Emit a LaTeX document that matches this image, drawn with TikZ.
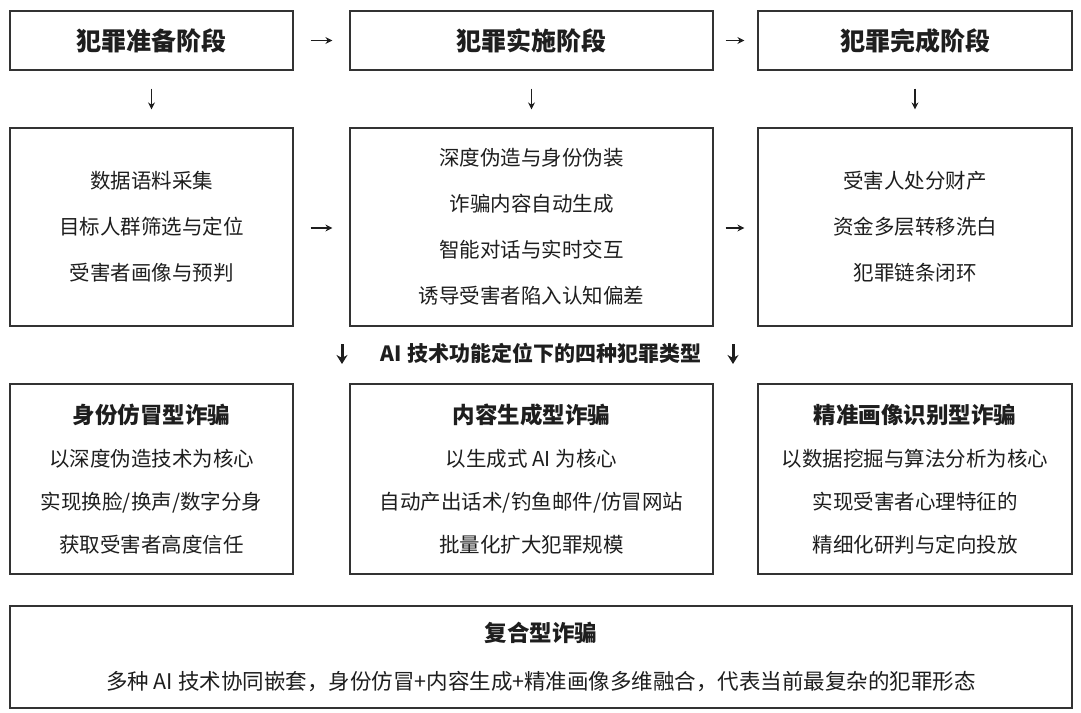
\documentclass[tikz,border=0pt]{standalone}
\usepackage{fontspec}
\setmainfont{Noto Sans CJK SC}
\usetikzlibrary{arrows.meta}
\definecolor{ink}{HTML}{1E1E1E}
\definecolor{edge}{HTML}{333333}
\begin{document}
\begin{tikzpicture}[x=1pt,y=-1pt,
  box/.style={draw=edge, line width=1.2pt, inner sep=0pt, align=center, text=ink},
  headtext/.style={font=\fontsize{25}{30}\selectfont\bfseries},
  bodytext/.style={font=\fontsize{20.5}{46}\selectfont},
  typetext/.style={font=\fontsize{20.5}{43}\selectfont},
  arr/.style={draw=ink, line width=1.2pt, -{Stealth[length=7pt,width=7pt]}},
  bigarr/.style={draw=ink, line width=3pt, -{Stealth[length=9pt,width=11pt]}},
  lbl/.style={text=ink, font=\fontsize{21}{24}\selectfont\bfseries}
]
\useasboundingbox (0,0) rectangle (1081,712);
\fill[white] (0,0) rectangle (1081,712);

% Row 1
\node[box, headtext, minimum width=283pt, minimum height=59pt] (h1) at (151.5,40.5) {犯罪准备阶段};
\node[box, headtext, minimum width=363pt, minimum height=59pt] (h2) at (531.5,40.5) {犯罪实施阶段};
\node[box, headtext, minimum width=314pt, minimum height=59pt] (h3) at (915,40.5) {犯罪完成阶段};

% Row 2
\node[box, bodytext, minimum width=283pt, minimum height=198pt] (s1) at (151.5,227) {数据语料采集\\目标人群筛选与定位\\受害者画像与预判};
\node[box, bodytext, minimum width=363pt, minimum height=198pt] (s2) at (531.5,227) {\raisebox{-2pt}{\parbox{340pt}{\centering 深度伪造与身份伪装\\诈骗内容自动生成\\智能对话与实时交互\\诱导受害者陷入认知偏差}}};
\node[box, bodytext, minimum width=314pt, minimum height=198pt] (s3) at (915,227) {受害人处分财产\\资金多层转移洗白\\犯罪链条闭环};

% Middle label
\node[lbl] (mid) at (541,353) {AI 技术功能定位下的四种犯罪类型};
\coordinate (ma1) at (342,344);
\coordinate (mb1) at (342,364);
\coordinate (ma2) at (733,344);
\coordinate (mb2) at (733,364);
\draw[bigarr] (ma1) -- (mb1);
\draw[bigarr] (ma2) -- (mb2);

% Row 3
\node[box, typetext, minimum width=283pt, minimum height=190pt] (t1) at (151.5,479)
  {{\fontsize{22.5}{43}\selectfont\bfseries 身份仿冒型诈骗}\\以深度伪造技术为核心\\实现换脸/换声/数字分身\\获取受害者高度信任};
\node[box, typetext, minimum width=363pt, minimum height=190pt] (t2) at (531.5,479)
  {{\fontsize{22.5}{43}\selectfont\bfseries 内容生成型诈骗}\\以生成式 AI 为核心\\自动产出话术/钓鱼邮件/仿冒网站\\批量化扩大犯罪规模};
\node[box, typetext, minimum width=314pt, minimum height=190pt] (t3) at (915,479)
  {{\fontsize{22.5}{43}\selectfont\bfseries 精准画像识别型诈骗}\\以数据挖掘与算法分析为核心\\实现受害者心理特征的\\精细化研判与定向投放};

% Row 4
\node[box, font=\fontsize{21.5}{48}\selectfont, minimum width=1062pt, minimum height=102pt] (c) at (541,657)
  {{\fontsize{22.5}{48}\selectfont\bfseries 复合型诈骗}\\多种 AI 技术协同嵌套，身份仿冒+内容生成+精准画像多维融合，代表当前最复杂的犯罪形态};

% Connectors
\draw[arr, shorten <=17pt, shorten >=17pt] (h1.east) -- (h2.west);
\draw[arr, shorten <=12pt, shorten >=13pt] (h2.east) -- (h3.west);
\draw[arr, shorten <=17pt, shorten >=17pt] (s1.east |- 0,228) -- (s2.west |- 0,228);
\draw[arr, shorten <=12pt, shorten >=13pt] (s2.east |- 0,228) -- (s3.west |- 0,228);
\draw[arr, shorten <=18pt, shorten >=18pt] (h1.south) -- (s1.north);
\draw[arr, shorten <=18pt, shorten >=18pt] (h2.south) -- (s2.north);
\draw[arr, shorten <=18pt, shorten >=18pt] (h3.south) -- (s3.north);
\end{tikzpicture}
\end{document}
